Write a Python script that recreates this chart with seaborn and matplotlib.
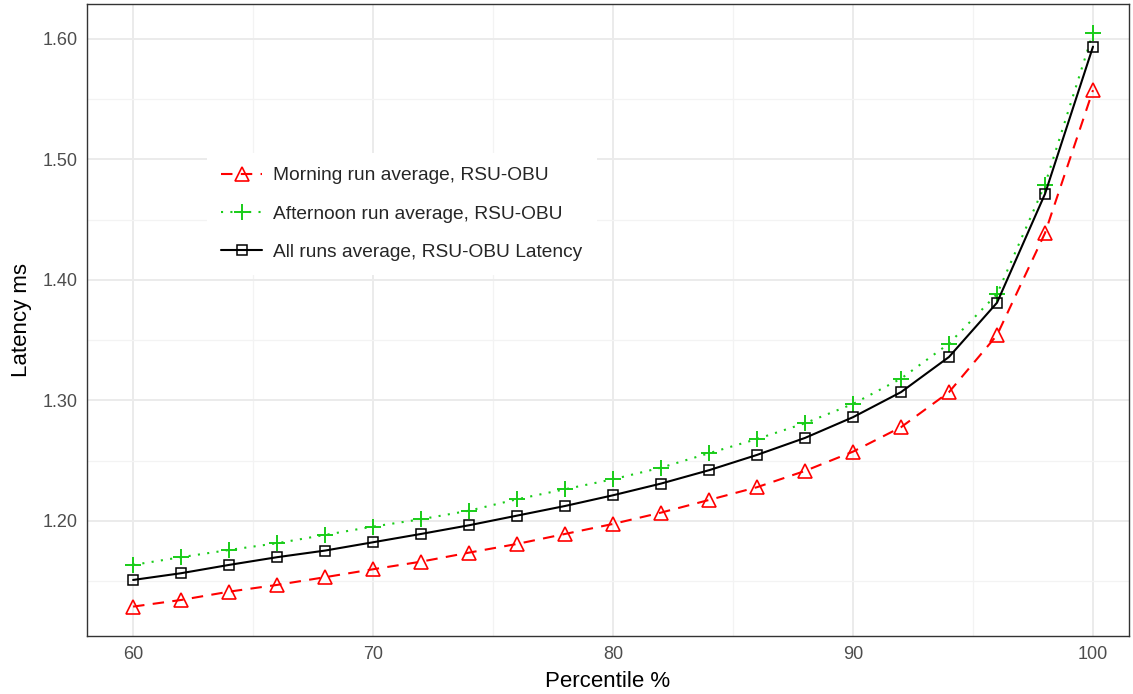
import matplotlib
matplotlib.use("Agg")
import matplotlib.pyplot as plt
import matplotlib.ticker as mticker
import numpy as np
import pandas as pd
import seaborn as sns

percentile = [60, 62, 64, 66, 68, 70, 72, 74, 76, 78, 80, 82, 84, 86, 88, 90, 92, 94, 96, 98, 100]
morning = [1.1289, 1.1344, 1.1413, 1.1469, 1.1533, 1.1599, 1.1662, 1.1737, 1.1809, 1.1892,
           1.1975, 1.2069, 1.2174, 1.2280, 1.2415, 1.2575, 1.2778, 1.3069, 1.3542, 1.4389, 1.5575]
afternoon = [1.1635, 1.1699, 1.1759, 1.1815, 1.1884, 1.1953, 1.2014, 1.2085, 1.2180, 1.2263,
             1.2346, 1.2442, 1.2562, 1.2680, 1.2811, 1.2971, 1.3181, 1.3472, 1.3883, 1.4792, 1.6050]
all_runs = [1.1510, 1.1566, 1.1635, 1.1699, 1.1754, 1.1823, 1.1892, 1.1964, 1.2044, 1.2124,
            1.2213, 1.2310, 1.2421, 1.2548, 1.2689, 1.2861, 1.3069, 1.3361, 1.3811, 1.4714, 1.5936]

labels = ["Morning run average, RSU-OBU",
          "Afternoon run average, RSU-OBU",
          "All runs average, RSU-OBU Latency"]
x_ticks = [60, 70, 80, 90, 100]
y_ticks = [1.20, 1.30, 1.40, 1.50, 1.60]

sns.set_style("white")
plt.rcParams['font.family'] = ['Liberation Sans', 'DejaVu Sans']

fig = plt.figure(figsize=(11.33, 6.94), dpi=100)
ax = fig.add_axes([87 / 1133, 1 - 636 / 694, (1129 - 87) / 1133, (636 - 4) / 694])

df = pd.DataFrame({"x": percentile, "m": morning, "a": afternoon, "r": all_runs})

lw = 1.5
sns.lineplot(data=df, x="x", y="m", ax=ax, color="#FF0000", linewidth=lw,
             linestyle=(0, (5.5, 4)), marker="^", markersize=9.5,
             markerfacecolor="none", markeredgecolor="#FF0000", markeredgewidth=1.2,
             label=labels[0], zorder=3)
sns.lineplot(data=df, x="x", y="a", ax=ax, color="#19CC19", linewidth=lw,
             linestyle=(0, (1, 3.5)), marker="+", markersize=12,
             markeredgecolor="#19CC19", markeredgewidth=1.4,
             label=labels[1], zorder=3)
sns.lineplot(data=df, x="x", y="r", ax=ax, color="#000000", linewidth=lw,
             linestyle="-", marker="s", markersize=7.5,
             markerfacecolor="none", markeredgecolor="#000000", markeredgewidth=1.1,
             label=labels[2], zorder=3)

ax.set_xlim(58.08, 101.5)
ax.set_ylim(1.1045, 1.629)
ax.set_xticks(x_ticks)
ax.set_yticks(y_ticks)
ax.xaxis.set_minor_locator(mticker.MultipleLocator(5))
ax.yaxis.set_minor_locator(mticker.MultipleLocator(0.05))
ax.yaxis.set_major_formatter(mticker.FormatStrFormatter("%.2f"))

ax.grid(which="major", color="#EBEBEB", linewidth=1.4, zorder=0)
ax.grid(which="minor", color="#F3F3F3", linewidth=0.9, zorder=0)
ax.set_axisbelow(True)

for s in ax.spines.values():
    s.set_color("#333333")
    s.set_linewidth(1.0)

ax.tick_params(axis="both", which="major", direction="out", length=4, width=1,
               color="#333333", labelcolor="#4D4D4D", labelsize=13, pad=3)
ax.tick_params(axis="both", which="minor", length=0)

ax.set_xlabel("Percentile %", fontsize=16, color="black", labelpad=6)
ax.set_ylabel("Latency ms", fontsize=16, color="black", labelpad=7)

leg = ax.legend(loc="upper left", bbox_to_anchor=(0.106, 0.78), frameon=True,
                fontsize=13.8, handlelength=2.1, handletextpad=0.6,
                labelspacing=1.08, borderpad=0.75, fancybox=False)
leg.get_frame().set_facecolor("white")
leg.get_frame().set_edgecolor("none")
leg.get_frame().set_alpha(1)

fig.savefig("out.png", dpi=100)
